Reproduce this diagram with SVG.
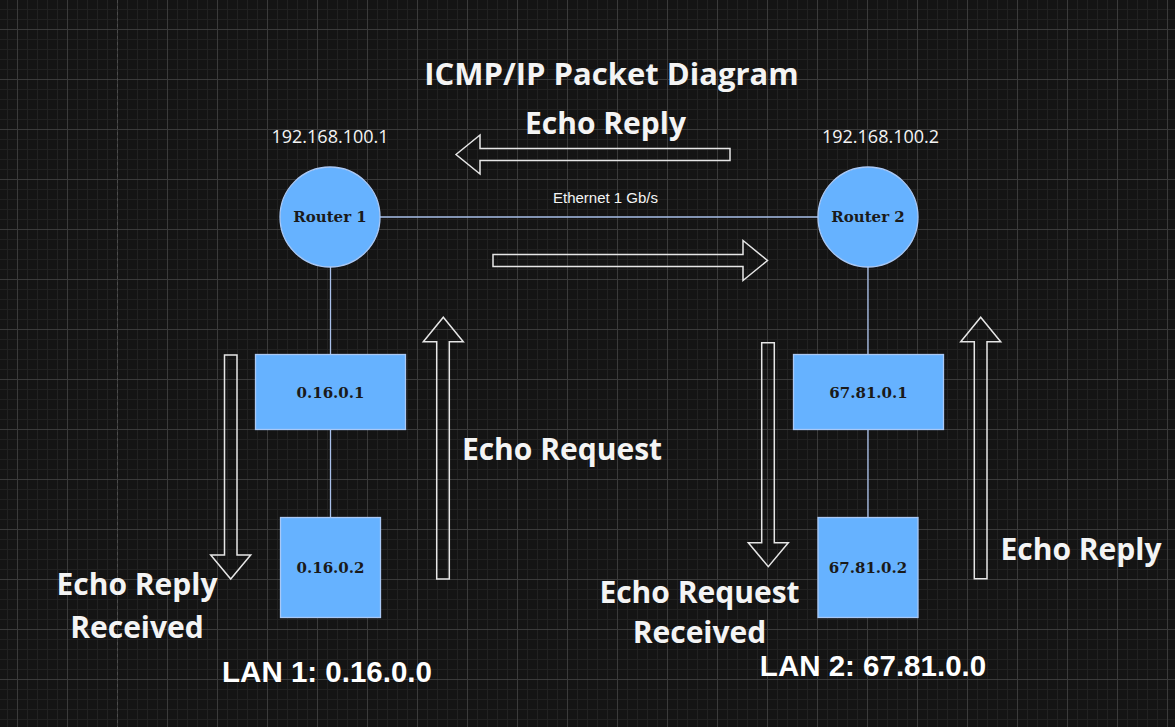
<svg xmlns="http://www.w3.org/2000/svg" width="1175" height="727" viewBox="0 0 1175 727">
<style>
.node{fill:#66b2ff;stroke:#a9c8f5;stroke-width:1.3}
.nlbl{font-family:"DejaVu Serif",serif;font-weight:bold;font-size:15px;fill:#1a1a1a;text-anchor:middle}
.link{stroke:#a9c0ea;stroke-width:1.3;fill:none}
.flow{fill:none;stroke:#e6e6e6;stroke-width:1.5;stroke-linejoin:miter}
.big{font-family:"Open Sans","Liberation Sans",sans-serif;font-weight:bold;font-size:30px;fill:#f4f4f4;text-anchor:middle}
.title{font-size:31px}
.lan{font-family:"Liberation Sans",Arial,sans-serif;font-weight:bold;font-size:29.5px;fill:#ffffff;text-anchor:middle}
.ip{font-family:"Open Sans","Liberation Sans",sans-serif;font-size:18px;fill:#f4f4f4;text-anchor:middle}
.eth{font-family:"Liberation Sans",Arial,sans-serif;font-size:15px;fill:#f4f4f4;text-anchor:middle}
</style>
<defs>
<pattern id="minor" width="10" height="10" patternUnits="userSpaceOnUse">
<path d="M7.5 0V10M0 9.5H10" stroke="#212121" stroke-width="1" fill="none"/>
</pattern>
<pattern id="major" width="50" height="50" patternUnits="userSpaceOnUse">
<path d="M17.5 0V50M0 29.5H50" stroke="#3a3a3a" stroke-width="1" fill="none"/>
</pattern>
</defs>
<rect width="1175" height="727" fill="#141414"/>
<rect width="1175" height="727" fill="url(#minor)"/>
<rect width="1175" height="727" fill="url(#major)"/>
<line x1="117.5" y1="0" x2="117.5" y2="727" stroke="#4a4a4a" stroke-width="1" stroke-dasharray="3 3"/>

<g id="connectors">
<line class="link" x1="380" y1="217" x2="818" y2="217"/>
<line class="link" x1="330.5" y1="267" x2="330.5" y2="354.5"/>
<line class="link" x1="330.5" y1="429.5" x2="330.5" y2="517.5"/>
<line class="link" x1="868" y1="267" x2="868" y2="354.5"/>
<line class="link" x1="868" y1="429.5" x2="868" y2="517.5"/>
<text class="eth" x="605.5" y="203">Ethernet 1 Gb/s</text>
</g>

<g id="flow-arrows">
<polygon class="flow" points="456,154.5 480,135 480,148.5 730,148.5 730,160.5 480,160.5 480,174"/>
<polygon class="flow" points="493,254.5 743,254.5 743,240.5 767.5,260.5 743,280.5 743,266.5 493,266.5"/>
<polygon class="flow" points="224.5,355 237,355 237,555 250.7,555 230.7,579 210.7,555 224.5,555"/>
<polygon class="flow" points="436.7,579 449.3,579 449.3,341.7 463.3,341.7 443.3,317.3 423.3,341.7 436.7,341.7"/>
<polygon class="flow" points="761.7,342.7 774.3,342.7 774.3,542.7 788.3,542.7 768.3,566.7 748.3,542.7 761.7,542.7"/>
<polygon class="flow" points="974.3,578.7 987,578.7 987,341.7 1000.7,341.7 980.7,317.3 960.7,341.7 974.3,341.7"/>
</g>

<g id="router1">
<circle class="node" cx="330" cy="217" r="50"/>
<text class="nlbl" x="330" y="222">Router 1</text>
</g>
<g id="router2">
<circle class="node" cx="868" cy="217" r="50"/>
<text class="nlbl" x="868" y="222">Router 2</text>
</g>
<g id="sw-0-16-0-1">
<rect class="node" x="255.5" y="354.5" width="150" height="75"/>
<text class="nlbl" x="330.5" y="397.5">0.16.0.1</text>
</g>
<g id="host-0-16-0-2">
<rect class="node" x="280.5" y="517.5" width="100" height="100"/>
<text class="nlbl" x="330.5" y="572.5">0.16.0.2</text>
</g>
<g id="sw-67-81-0-1">
<rect class="node" x="793.5" y="354.5" width="150" height="75"/>
<text class="nlbl" x="868.5" y="397.5">67.81.0.1</text>
</g>
<g id="host-67-81-0-2">
<rect class="node" x="818" y="517.5" width="100" height="100"/>
<text class="nlbl" x="868" y="572.5">67.81.0.2</text>
</g>

<g id="labels">
<text class="big title" x="611.5" y="85">ICMP/IP Packet Diagram</text>
<text class="big" x="605.5" y="134">Echo Reply</text>
<text class="ip" x="330" y="143">192.168.100.1</text>
<text class="ip" x="880.5" y="143">192.168.100.2</text>
<text class="big" x="562" y="459.5">Echo Request</text>
<text class="big" x="1081" y="559.5">Echo Reply</text>
<text class="big" x="137" y="595">Echo Reply</text>
<text class="big" x="137" y="637.5">Received</text>
<text class="big" x="699.5" y="602.5">Echo Request</text>
<text class="big" x="699.5" y="642.5">Received</text>
<text class="lan" x="327" y="682">LAN 1: 0.16.0.0</text>
<text class="lan" x="873" y="676">LAN 2: 67.81.0.0</text>
</g>
</svg>
